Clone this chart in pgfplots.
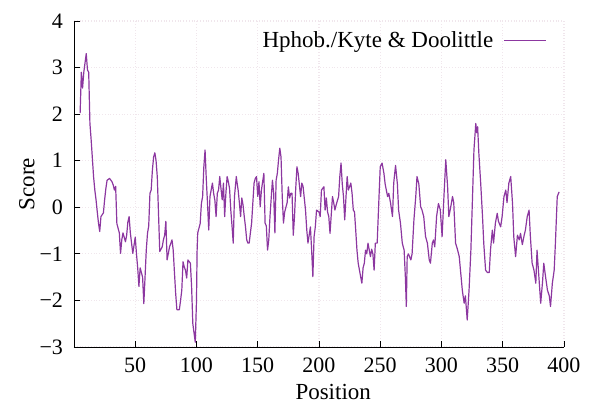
\documentclass[border=0pt]{standalone}
\usepackage{fontspec}
\setmainfont{Liberation Serif}
\usepackage{pgfplots}
\pgfplotsset{compat=1.18}
\definecolor{kd}{RGB}{140,55,160}
\definecolor{gridc}{RGB}{240,230,236}

\pgfplotstableread{
pos v
5 2.02
6 2.9
7 2.56
8 2.9
10 3.3
11 2.95
12 2.9
13 1.8
14 1.45
16 0.65
17 0.37
18 0.16
19 -0.1
20 -0.34
21 -0.52
22 -0.2
24 -0.12
25 0.16
26 0.4
27 0.58
29 0.62
31 0.55
32 0.48
33 0.37
34 0.45
35 -0.35
37 -0.55
38 -0.99
39 -0.7
40 -0.55
42 -0.74
43 -0.6
44 -0.31
45 -0.2
46 -0.55
48 -0.99
50 -0.64
51 -1.0
52 -1.3
53 -1.7
54 -1.3
56 -1.5
57 -2.07
58 -1.5
59 -0.92
60 -0.56
61 -0.4
62 0.3
63 0.37
64 0.8
65 1.08
66 1.17
67 1.0
68 0.65
69 -0.13
70 -0.95
72 -0.85
73 -0.7
74 -0.6
75 -0.3
76 -1.13
78 -0.85
80 -0.7
81 -0.92
82 -1.4
83 -1.85
84 -2.2
86 -2.2
87 -2.0
88 -1.78
89 -1.17
90 -1.28
91 -1.35
92 -1.52
93 -1.13
95 -1.2
96 -1.7
97 -2.5
98 -2.7
99 -2.9
100 -2.0
100.5 -0.93
101 -0.55
103 -0.35
104 0.08
105 0.23
106 0.87
107 1.23
108 0.6
109 0.08
110 -0.49
111 0.23
113 0.52
114 0.3
115 0.15
116 -0.2
117 0.3
118 0.37
119 0.66
120 0.4
121 0.16
122 0.52
123 -0.2
124 0.3
125 0.66
126 0.55
127 0.4
128 -0.06
129 -0.4
130 -0.77
131 0.23
132.5 0.66
133 0.55
134 0.37
135 0.1
136 -0.2
137 0.2
138 0.05
139 -0.2
140 -0.42
141 -0.7
142 -0.77
143 -0.77
144 -0.55
145 -0.34
146 0.1
147 0.52
148 0.62
149 0.66
150 0.23
151 0.55
152 0.01
153 0.37
154 0.55
155 0.73
156 -0.34
157 -0.4
158 -0.92
159 -0.7
160 -0.2
161 0.2
162 0.58
163 0.3
164 -0.55
165 0.58
166 0.73
167 1.02
168 1.27
169 1.08
170 0.23
171 -0.34
172 -0.1
174 0.1
175 0.44
176 0.2
177 0.3
178 0.3
179 -0.6
180 -0.2
181 0.4
182 0.87
183 0.73
185 0.23
186 0.52
187 0.45
189 -0.06
190 -0.48
191 -0.77
193 -0.42
194 -0.92
195 -1.49
196 -0.63
197 -0.42
198 -0.06
200 -0.1
201 -0.2
202 0.37
204 0.44
205 -0.06
206 0.2
207 -0.1
208 -0.2
209 -0.56
211 0.23
212 0.1
213 -0.06
214 0.05
216 0.23
217 0.66
218 0.95
219 0.5
220 0.23
221 -0.27
222 0.2
223 0.66
224 0.37
226 0.52
227 0.3
228 -0.06
229 -0.1
230 -0.5
231 -0.92
232 -1.2
234 -1.49
235 -1.63
236 -1.3
237 -1.2
238 -0.92
239 -1.0
240 -0.77
242 -1.06
243 -0.9
244 -1.0
245 -1.35
246 -0.77
247.5 -0.77
249 0.23
250 0.87
251.5 0.95
253 0.73
254 0.5
256 0.23
257 0.3
258.5 0.08
260 -0.2
261 0.52
262.5 0.9
264 0.5
265 -0.06
266.5 -0.34
268 -0.77
269.5 -0.92
270.5 -1.49
271.3 -2.13
272 -1.06
273 -1.0
275 -1.13
276 -1.0
277.5 -0.27
279 0.23
280 0.66
281.5 0.5
283 0.01
284 -0.05
285.5 -0.2
287 -0.63
288.5 -0.77
290 -1.13
291 -1.2
292.5 -0.77
293.5 -0.7
294.5 -0.85
296 -0.2
297.5 0.08
299 -0.05
300.5 -0.63
302 0.23
303.5 1.02
305 0.44
306 -0.2
307.5 0.0
309 0.23
310 0.1
311.5 -0.77
313 -0.9
314.5 -1.06
315.5 -1.35
317 -1.78
318.5 -2.06
319.5 -1.9
321 -2.42
322.5 -1.78
324 -0.92
325 -0.06
326.5 1.23
328 1.8
328.8 1.6
329.5 1.73
330.5 1.16
332 0.52
333.5 -0.2
334.5 -0.77
336 -1.35
337.5 -1.4
339 -1.4
340 -0.92
341.5 -0.49
342.5 -0.77
344 -0.34
345.5 -0.13
346.5 -0.3
348.3 -0.42
349.5 -0.2
351 0.23
352.5 0.37
353.5 0.1
355 0.52
356.5 0.66
358 0.08
359 -0.63
360.5 -1.06
362 -0.6
363.5 -0.7
364.5 -0.56
366 -0.8
367.5 -0.6
368.5 -0.49
370 -0.2
371.5 -0.06
372.5 -0.6
374 -1.2
375.5 -1.35
377 -1.63
378 -0.92
379.5 -1.49
381 -2.06
382.5 -1.6
383.5 -1.2
385 -1.5
386.5 -1.78
388 -1.9
389 -2.13
390.5 -1.63
392 -1.35
393 -0.77
394.5 0.23
396 0.33
}\kdtable

\begin{document}
\begin{tikzpicture}
\useasboundingbox (-37pt,-30.5pt) rectangle (258.5pt,173.5pt);
\begin{axis}[
  at={(0,0)},anchor=south west,
  scale only axis,
  width=245pt,height=163pt,
  xmin=0,xmax=400,ymin=-3,ymax=4,
  axis lines=left,
  axis line style={-,thin,black},
  tick style={black,thin},
  major tick length=3pt,
  tick align=inside,
  xtick={50,100,...,400},
  xticklabels={50,100,150,200,250,300,350,400},
  ytick={-3,-2,...,4},
  yticklabels={−3,−2,−1,0,1,2,3,4},
  tick label style={font=\fontsize{11}{13}\selectfont},
  xticklabel style={yshift=-2pt},
  yticklabel style={xshift=-2pt},
  grid=major,
  major grid style={gridc,densely dotted,line width=0.6pt},
  xlabel={Position},
  ylabel={Score},
  label style={font=\fontsize{11.5}{13}\selectfont},
  xlabel style={at={(axis description cs:0.529,-0.138)},anchor=center},
  ylabel style={at={(axis description cs:-0.096,0.5)},anchor=center},
  legend plot pos=right,
  legend style={at={(rel axis cs:0.978,0.995)},anchor=north east,draw=none,fill=none,
    font=\fontsize{11.5}{13}\selectfont},
  legend image code/.code={\draw[#1,line width=0.8pt] (0pt,0pt) -- (21pt,0pt);},
]
\addplot[kd,line width=0.6pt,line join=round] table[x=pos,y=v] {\kdtable};
\addlegendentry{Hphob./Kyte \& Doolittle\kern3pt}
\end{axis}
\end{tikzpicture}
\end{document}
